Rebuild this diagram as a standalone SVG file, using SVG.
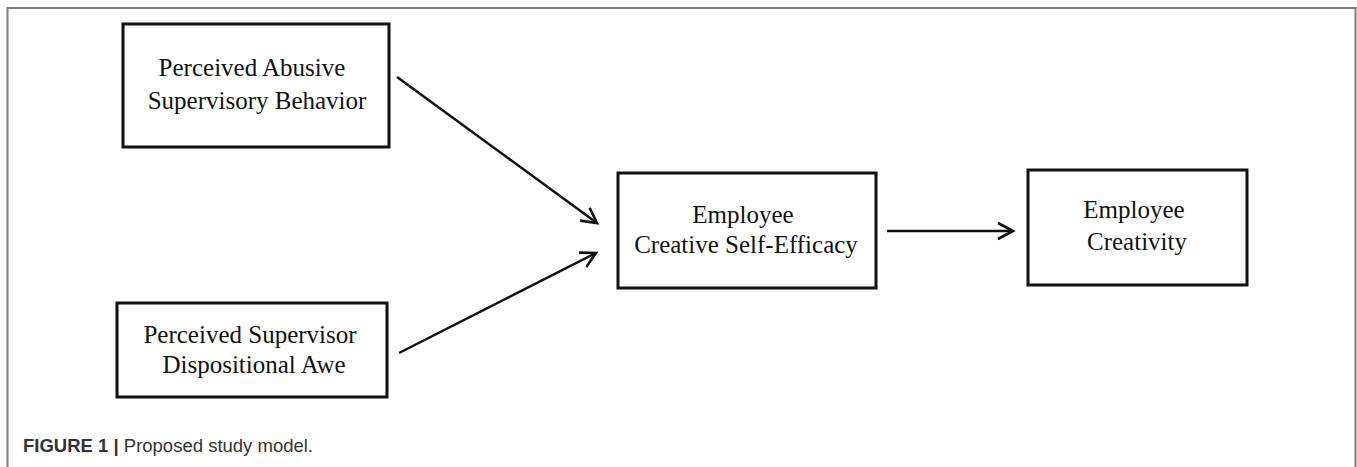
<svg xmlns="http://www.w3.org/2000/svg" width="1357" height="467" viewBox="0 0 1357 467">
  <style>
    .box { fill: #ffffff; stroke: #111111; stroke-width: 3; }
    .label { font-family: "Liberation Serif", "Times New Roman", serif; font-size: 25px; fill: #111111; text-anchor: middle; }
    .link { fill: none; stroke: #111111; stroke-width: 2.5; marker-end: url(#arrow); }
    .frame { fill: none; stroke: #7a7a7a; stroke-width: 2; }
    .caption { font-family: "Liberation Sans", Arial, sans-serif; font-size: 18.5px; fill: #333333; }
  </style>
  <defs>
    <marker id="arrow" markerUnits="userSpaceOnUse" markerWidth="30" markerHeight="30" viewBox="-20 -15 30 30" refX="0" refY="0" orient="auto">
      <path d="M-15,-8 L0,0 L-15,8" fill="none" stroke="#111111" stroke-width="2.6" stroke-linejoin="miter"/>
    </marker>
  </defs>

  <rect width="1357" height="467" fill="#ffffff"/>

  <!-- figure panel border (open at the bottom) -->
  <path class="frame" d="M7.5,467 V8 H1355.5 V467"/>

  <g id="node-abusive-supervision">
    <rect class="box" x="123" y="24" width="266" height="123"/>
    <text class="label" x="252" y="76">Perceived Abusive</text>
    <text class="label" x="257" y="109">Supervisory Behavior</text>
  </g>

  <g id="node-supervisor-awe">
    <rect class="box" x="117" y="303" width="270" height="94"/>
    <text class="label" x="250" y="343">Perceived Supervisor</text>
    <text class="label" x="254" y="373">Dispositional Awe</text>
  </g>

  <g id="node-creative-self-efficacy">
    <rect class="box" x="618" y="173" width="258" height="115"/>
    <text class="label" x="743" y="223">Employee</text>
    <text class="label" x="746" y="253">Creative Self-Efficacy</text>
  </g>

  <g id="node-creativity">
    <rect class="box" x="1028" y="170" width="219" height="115"/>
    <text class="label" x="1134" y="218">Employee</text>
    <text class="label" x="1137" y="250">Creativity</text>
  </g>

  <g id="connectors">
    <line class="link" x1="397" y1="77" x2="597" y2="223"/>
    <line class="link" x1="399" y1="353" x2="596" y2="253"/>
    <line class="link" x1="887" y1="231" x2="1013" y2="231"/>
  </g>

  <text class="caption" x="23" y="452"><tspan font-weight="bold">FIGURE 1</tspan> <tspan font-weight="bold">|</tspan> Proposed study model.</text>
</svg>
